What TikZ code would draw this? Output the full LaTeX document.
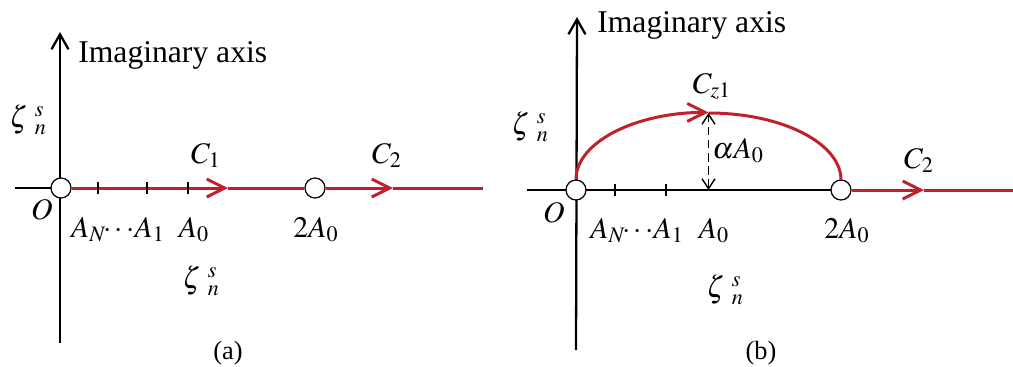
\documentclass[tikz,border=0pt]{standalone}
\usepackage{mathptmx}
\usepackage{fontspec}
\setmainfont{Liberation Serif}
\usetikzlibrary{arrows.meta}

\newcommand{\zetans}{$\zeta\hspace{4pt}{}^{s}_{n}$}
\newcommand{\anone}{$A_N\!\!\cdots\! A_1$}

\begin{document}
\begin{tikzpicture}[
    x=0.02cm, y=-0.02cm,
    every node/.style={font=\fontsize{17}{20}\selectfont, inner sep=0pt},
    axis/.style={line width=1.3pt, black},
    axisarrow/.style={-{Straight Barb[length=3mm, width=3.4mm]}},
    contour/.style={line width=1.7pt, curvered},
    barb/.style={-{Straight Barb[length=3.6mm, width=3.6mm]}},
    hole/.style={circle, draw=black, fill=white, line width=0.7pt, minimum size=0.4cm},
    tick/.style={line width=1pt, black},
    dimline/.style={line width=0.8pt, black, dash pattern=on 5pt off 2.5pt,
        {Straight Barb[length=2mm, width=2.6mm]}-{Straight Barb[length=2mm, width=2.6mm]}},
    lbl/.style={anchor=base},
    caption/.style={font=\fontsize{15}{18}\selectfont},
    axistitle/.style={anchor=base west, font=\fontsize{18}{21}\selectfont}
]

\definecolor{curvered}{RGB}{192, 32, 44}

\useasboundingbox (0,0) rectangle (1013,366);

% (a) straight contour
\coordinate (oa) at (61,188);
\coordinate (pa) at (315,188);
\coordinate (c1a) at (228,188);
\coordinate (c2a) at (393,188);
\coordinate (ea) at (483,188);
\coordinate (topa) at (60,32);
\coordinate (bota) at (60,343);
\coordinate (lefta) at (15,188);

\draw[axis, axisarrow] (bota) -- (topa);
\draw[axis] (lefta) -- (oa);
\node[hole] (O1) at (oa) {};
\node[hole] (P1) at (pa) {};
\draw[contour, barb] (O1.east) -- (c1a);
\draw[contour] (c1a) -- (P1.west);
\draw[contour, barb] (P1.east) -- (c2a);
\draw[contour] (c2a) -- (ea);
\foreach \tx in {98,147,188}
    \draw[tick] (\tx,182) -- (\tx,194);

\node[axistitle] (imA) at (78,62) {Imaginary axis};
\node (zetaA1) at (28,120) {\zetans};
\node (zetaA2) at (201,281) {\zetans};
\node[lbl] (C1) at (206,163) {$C_1$};
\node[lbl] (C2a) at (387,163) {$C_2$};
\node (Oa) at (42,210) {$O$};
\node[lbl] (ANa) at (118,237) {\anone};
\node[lbl] (A0a) at (194,237) {$A_0$};
\node[lbl] (A2a) at (316,237) {$2A_0$};
\node[caption] (capA) at (228,353) {(a)};

% (b) indented contour
\coordinate (ob) at (576,190);
\coordinate (pb) at (841,190);
\coordinate (a0b) at (708.5,190);
\coordinate (topc) at (708.5,113);
\coordinate (c2b) at (924,190);
\coordinate (eb) at (1013,190);
\coordinate (topb) at (577,17);
\coordinate (botb) at (576,350);
\coordinate (leftb) at (527,190);

\draw[axis, axisarrow] (botb) -- (topb);
\draw[axis] (leftb) -- (pb);
\foreach \tx in {615,666}
    \draw[tick] (\tx,184) -- (\tx,196);
\node[hole] (O2) at (ob) {};
\node[hole] (P2) at (pb) {};
\draw[contour, barb] (O2.north) arc[start angle=180, end angle=270, x radius=132.5, y radius=67];
\draw[contour] (topc) arc[start angle=270, end angle=360, x radius=132.5, y radius=67];
\draw[contour, barb] (P2.east) -- (c2b);
\draw[contour] (c2b) -- (eb);
\draw[dimline] (a0b) -- (topc);

\node[axistitle] (imB) at (597,32) {Imaginary axis};
\node (zetaB1) at (530,127) {\zetans};
\node (zetaB2) at (725,290) {\zetans};
\node[lbl] (Cz) at (712,93) {$C_{z1}$};
\node[lbl] (alpha) at (738,158) {$\alpha A_0$};
\node[lbl] (C2b) at (919,168) {$C_2$};
\node (Ob) at (554,213) {$O$};
\node[lbl] (ANb) at (637,238) {\anone};
\node[lbl] (A0b) at (714,238) {$A_0$};
\node[lbl] (A2b) at (847,238) {$2A_0$};
\node[caption] (capB) at (761,353) {(b)};

\end{tikzpicture}
\end{document}
